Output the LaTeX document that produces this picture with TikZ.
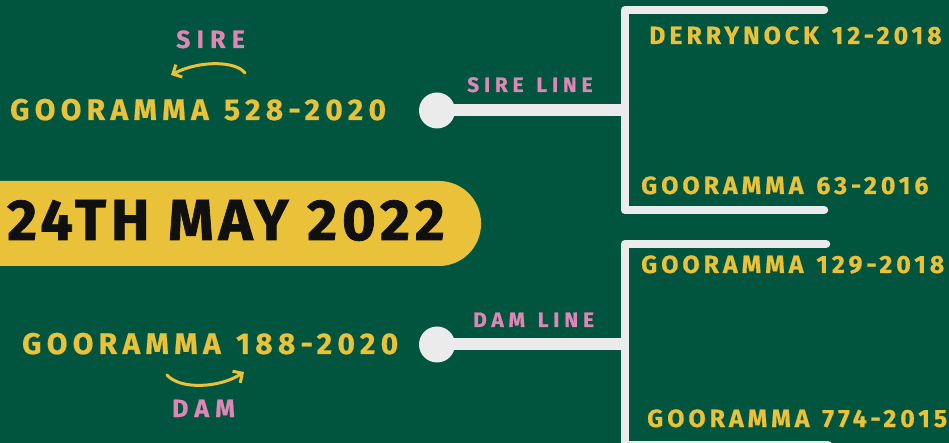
\documentclass[tikz,border=0pt]{standalone}
\usepackage{fontspec}
\setmainfont{Fira Sans}
\usetikzlibrary{arrows.meta}
\definecolor{bgc}{HTML}{01553F}
\definecolor{goldc}{HTML}{E9C23A}
\definecolor{pinkc}{HTML}{DE87B6}
\definecolor{linec}{HTML}{EBEBEB}
\definecolor{inkc}{HTML}{101010}
\newcommand\wgap{\kern3bp}
\begin{document}
\begin{tikzpicture}[x=1bp,y=-1bp,
  lblbig/.style={text=goldc,anchor=base west,inner sep=0pt,font=\fontsize{30}{30}\selectfont\bfseries\addfontfeature{LetterSpace=17.8,FakeBold=0.6}},
  lblsm/.style={text=goldc,anchor=base west,inner sep=0pt,font=\fontsize{25}{25}\selectfont\bfseries\addfontfeature{LetterSpace=16,FakeBold=0.6}},
  pinkbig/.style={text=pinkc,anchor=base west,inner sep=0pt,font=\fontsize{25}{25}\selectfont\bfseries\addfontfeature{LetterSpace=25,FakeBold=0.6}},
  pinksm/.style={text=pinkc,anchor=base west,inner sep=0pt,font=\fontsize{21}{21}\selectfont\bfseries\addfontfeature{LetterSpace=23,FakeBold=0.6}},
  titlestyle/.style={text=inkc,anchor=base west,inner sep=0pt,font=\fontsize{58}{58}\selectfont\bfseries\addfontfeature{LetterSpace=8.5,FakeBold=1.2}},
  dot/.style={circle,fill=linec,minimum size=36bp,inner sep=0pt},
  mainline/.style={draw=linec,line width=12bp},
  bracketline/.style={draw=linec,line width=8.5bp,line cap=round,line join=round},
  curvearrow/.style={draw=goldc,line width=3bp,line cap=round,-{Straight Barb[length=7bp,width=14bp,line width=3bp]}}
]
\useasboundingbox (0,0) rectangle (949,443);
\fill[bgc] (0,0) rectangle (949,443);
% date banner
\fill[goldc,rounded corners=42bp] (-60,181) rectangle (481,266);
\node[titlestyle] (date) at (7,240) {24TH MAY 2022};
% sire side
\node[pinkbig] (sire) at (176,48) {SIRE};
\node[lblbig] (s528) at (10,120) {GOORAMMA \wgap528-2020};
\coordinate (sa1) at (245,73);
\coordinate (sa2) at (171,75);
\draw[curvearrow] (sa1) .. controls (236,61) and (200,60) .. (sa2);
\node[dot] (sdot) at (437,110.5) {};
\coordinate (sj) at (625,110.5);
\coordinate (st) at (625,10);
\coordinate (ste) at (824,10);
\coordinate (sb) at (625,210);
\coordinate (sbe) at (824,210);
\draw[mainline] (sdot.center) -- (sj);
\draw[bracketline] (ste) -- (st) -- (sb) -- (sbe);
\node[pinksm] (sline) at (467,92) {SIRE \wgap LINE};
\node[lblsm] (derry) at (649,44) {DERRYNOCK \wgap12-2018};
\node[lblsm] (g63) at (641,194) {GOORAMMA \wgap63-2016};
% dam side
\node[lblbig] (d188) at (22,354) {GOORAMMA \wgap188-2020};
\coordinate (da1) at (167,375);
\coordinate (da2) at (244,372);
\draw[curvearrow] (da1) .. controls (180,390) and (220,388) .. (da2);
\node[pinkbig] (dam) at (172,417) {DAM};
\node[dot] (ddot) at (437,344.5) {};
\coordinate (dj) at (625,344.5);
\coordinate (dt) at (625,244);
\coordinate (dte) at (826,244);
\coordinate (db) at (625,445);
\coordinate (dbe) at (828,445);
\draw[mainline] (ddot.center) -- (dj);
\draw[bracketline] (dte) -- (dt) -- (db) -- (dbe);
\node[pinksm] (dline) at (473,327) {DAM \wgap LINE};
\node[lblsm] (g129) at (641,273) {GOORAMMA \wgap129-2018};
\node[lblsm] (g774) at (647,427) {GOORAMMA \wgap774-2015};
\end{tikzpicture}
\end{document}
